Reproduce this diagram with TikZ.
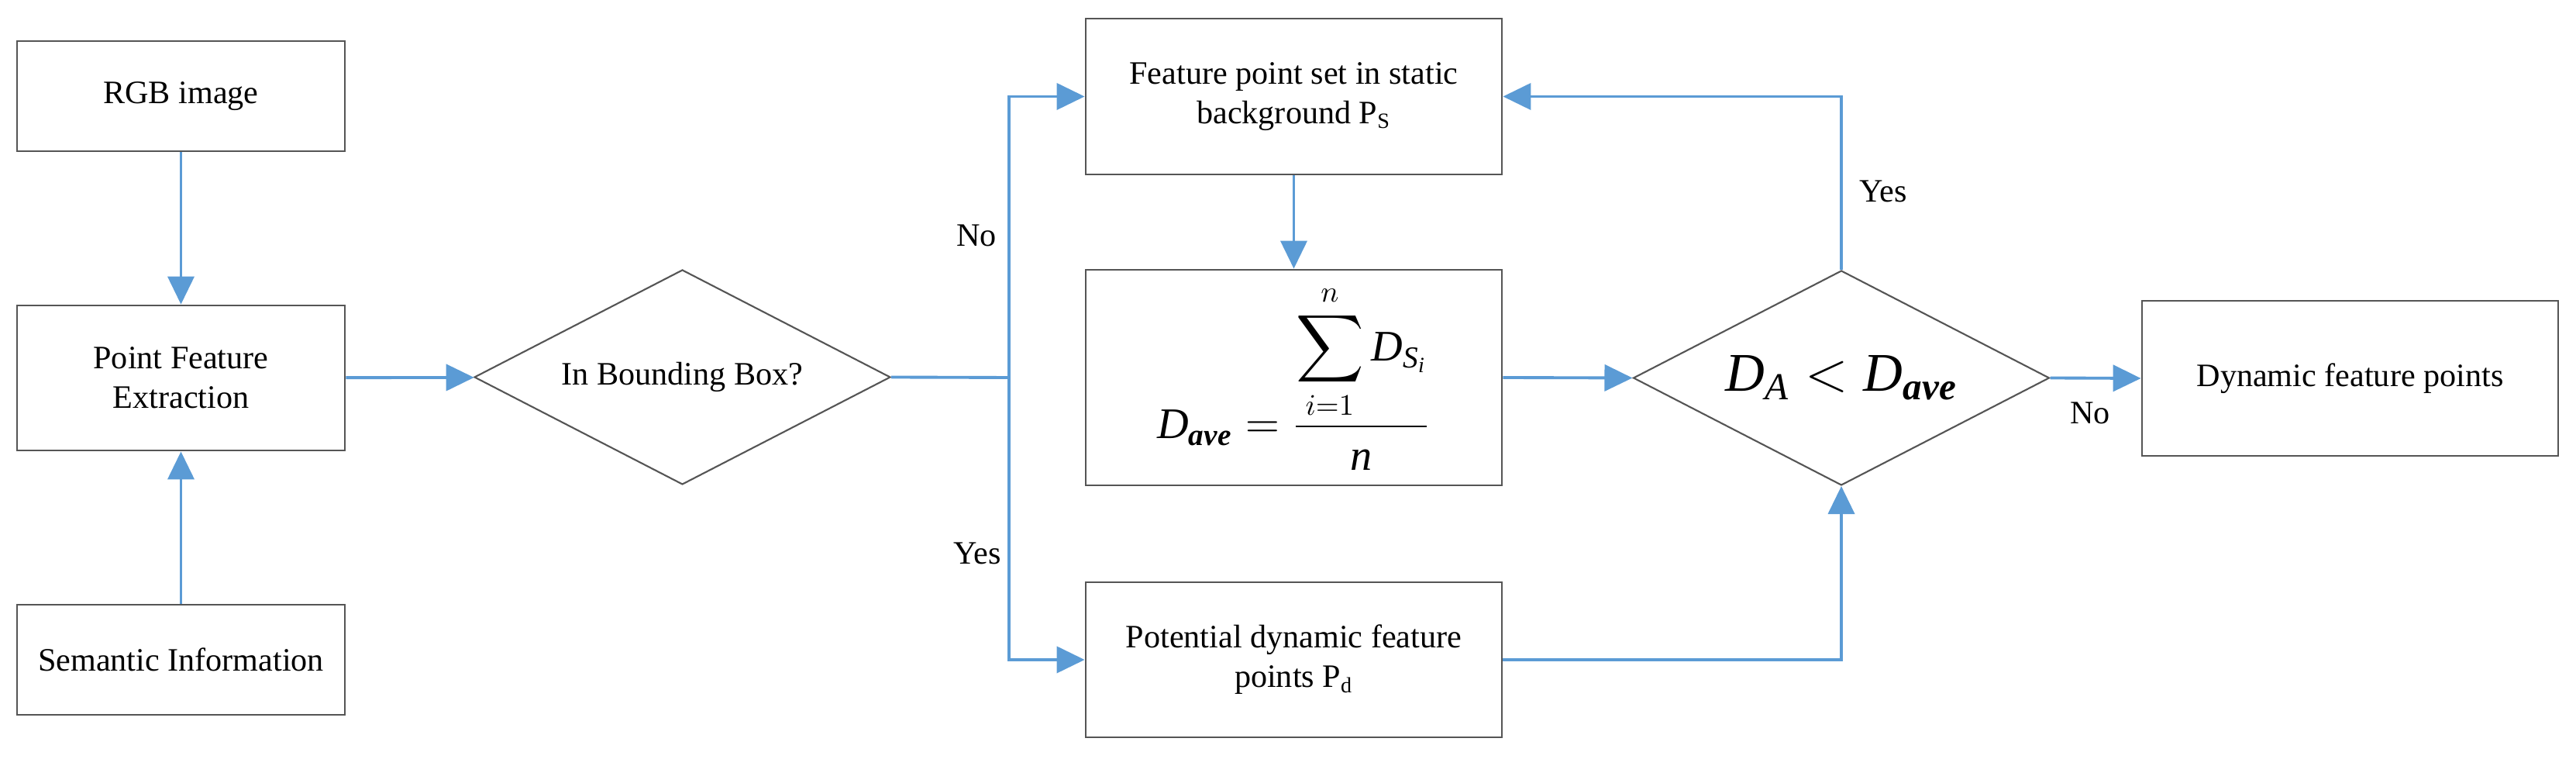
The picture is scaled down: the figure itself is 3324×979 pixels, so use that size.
\documentclass[tikz,border=0pt]{standalone}
\usepackage{fontspec}
\usepackage{amsmath}
\setmainfont{Liberation Serif}
\usetikzlibrary{arrows.meta,shapes.geometric}
\definecolor{flowblue}{RGB}{91,155,213}
\definecolor{edgegray}{RGB}{85,85,85}
\newcommand{\itD}{\text{\itshape D}}
\begin{document}
\begin{tikzpicture}[x=0.1mm,y=-0.1mm,
  box/.style={draw=edgegray,line width=0.8pt,rectangle,inner sep=0pt,align=center,
    font=\fontsize{12}{14.5}\selectfont},
  dec/.style={draw=edgegray,line width=0.6pt,diamond,aspect=1.94,inner sep=0pt,
    minimum width=53.7mm,minimum height=27.7mm,font=\fontsize{12}{14.5}\selectfont},
  conn/.style={draw=flowblue,line width=1.1pt},
  arr/.style={conn,-{Triangle[length=3.6mm,width=3.4mm]}},
  lbl/.style={font=\fontsize{12}{14.5}\selectfont,inner sep=0pt}]
\useasboundingbox (0,0) rectangle (3324,979);
% left column
\node[box,minimum width=42.3mm,minimum height=14.2mm] (rgb) at (233.5,124) {RGB image};
\node[box,minimum width=42.3mm,minimum height=18.7mm] (pfe) at (233.5,487.5) {Point Feature\\Extraction};
\node[box,minimum width=42.3mm,minimum height=14.2mm] (sem) at (233.5,851) {Semantic Information};
% decision 1
\node[dec] (d1) at (880.5,486.5) {In Bounding Box?};
% middle column
\node[box,minimum width=53.7mm,minimum height=20.1mm] (fps) at (1669.5,124.5)
  {Feature point set in static\\background P\textsubscript{S}};
\node[box,minimum width=53.7mm,minimum height=27.8mm] (form) at (1669.5,487)
  {\fontsize{16}{19}\selectfont
   $\itD_{\text{\bfseries\itshape ave}} = \dfrac{\displaystyle\sum_{i=1}^{n}\itD_{\text{\itshape S}_{\text{\itshape i}}}}{\text{\itshape n}}$};
\node[box,minimum width=53.7mm,minimum height=20.0mm] (pot) at (1669.5,851)
  {Potential dynamic feature\\points P\textsubscript{d}};
% decision 2
\node[dec] (d2) at (2376,487.5)
  {\fontsize{20}{24}\selectfont $\itD_{\text{\itshape A}} < \itD_{\text{\bfseries\itshape ave}}$};
% output
\node[box,minimum width=53.7mm,minimum height=20.0mm] (dyn) at (3032.5,488) {Dynamic feature points};
% junction
\coordinate (j) at (1302,487);
% connectors
\draw[arr] (rgb) -- (pfe);
\draw[arr] (sem) -- (pfe);
\draw[arr] (pfe) -- (d1);
\draw[conn] (d1.east) -- (j);
\draw[arr] (j) |- (fps.west);
\draw[arr] (j) |- (pot.west);
\draw[arr] (fps) -- (form);
\draw[arr] (form.east) -- (d2.west);
\draw[arr] (pot.east) -| (d2.south);
\draw[arr] (d2.north) |- (fps.east);
\draw[arr] (d2.east) -- (dyn.west);
% labels
\node[lbl] (lno1) at (1260,304) {No};
\node[lbl] (lyes1) at (1261,714) {Yes};
\node[lbl] (lyes2) at (2430,247) {Yes};
\node[lbl] (lno2) at (2697,533) {No};
\end{tikzpicture}
\end{document}
